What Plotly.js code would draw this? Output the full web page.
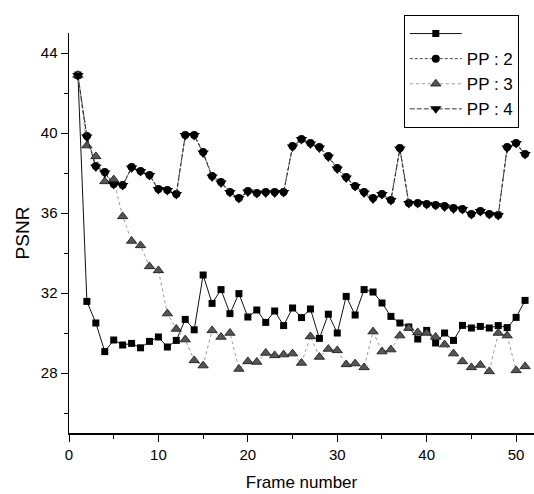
<!DOCTYPE html>
<html>
<head>
<meta charset="utf-8">
<script src="https://cdn.plot.ly/plotly-3.0.1.min.js"></script>
<style>html,body{margin:0;padding:0;background:#fff;}#chart{width:534px;height:494px;}</style>
</head>
<body>
<div id="chart"></div>
<script>
var frames = [];
for (var i = 1; i <= 51; i++) frames.push(i);

var seriesBase = [42.9, 31.58, 30.5, 29.07, 29.65, 29.4, 29.48, 29.26, 29.58, 29.8,
  29.3, 29.63, 30.68, 30.16, 32.9, 31.48, 32.17, 30.97, 31.97, 30.8,
  31.15, 30.53, 31.1, 30.37, 31.25, 30.77, 31.2, 29.73, 30.94, 30.0,
  31.83, 30.9, 32.17, 32.05, 31.5, 30.83, 30.5, 30.3, 29.7, 30.13,
  29.5, 30.0, 29.63, 30.38, 30.25, 30.33, 30.25, 30.37, 30.27, 30.78, 31.63];

var seriesPP4 = [42.87, 39.8, 38.3, 38.0, 37.42, 37.37, 38.25, 38.08, 37.88, 37.17,
  37.13, 36.92, 39.87, 39.87, 39.0, 37.8, 37.5, 37.03, 36.72, 37.05,
  36.97, 37.0, 37.0, 37.03, 39.3, 39.67, 39.45, 39.25, 38.8, 38.2,
  37.75, 37.33, 37.0, 36.7, 36.92, 36.63, 39.2, 36.47, 36.47, 36.42,
  36.38, 36.3, 36.2, 36.17, 35.92, 36.08, 35.92, 35.87, 39.25, 39.47, 38.92];

var seriesPP2 = [42.87, 39.85, 38.35, 38.05, 37.45, 37.4, 38.3, 38.1, 37.9, 37.2,
  37.15, 36.95, 39.9, 39.9, 39.05, 37.85, 37.55, 37.05, 36.75, 37.1,
  37.0, 37.05, 37.05, 37.05, 39.35, 39.7, 39.5, 39.3, 38.85, 38.25,
  37.8, 37.35, 37.05, 36.75, 36.95, 36.65, 39.25, 36.5, 36.5, 36.45,
  36.4, 36.35, 36.25, 36.2, 35.95, 36.1, 35.95, 35.9, 39.3, 39.5, 38.95];

var seriesPP3 = [42.9, 39.37, 38.83, 37.58, 37.67, 35.83, 34.6, 34.38, 33.33, 33.13,
  30.97, 30.2, 29.67, 28.63, 28.37, 30.13, 29.8, 30.0, 28.2, 28.58,
  28.55, 29.0, 28.88, 28.92, 28.97, 28.5, 29.83, 28.8, 29.2, 29.13,
  28.43, 28.47, 28.28, 30.07, 29.07, 29.17, 29.87, 30.25, 30.03, 30.0,
  29.8, 29.42, 28.97, 28.58, 28.28, 28.4, 28.08, 30.0, 29.87, 28.13, 28.33];

var legendNames = [' ', 'PP : 2', 'PP : 3', 'PP : 4'];
var xTicks = [0, 10, 20, 30, 40, 50];
var yTicks = [28, 32, 36, 40, 44];

var traces = [
  {x: frames, y: seriesBase, name: legendNames[0], mode: 'lines+markers',
   line: {color: '#111', width: 1},
   marker: {symbol: 'square', size: 7, color: '#000'}},
  {x: frames, y: seriesPP2, name: legendNames[1], mode: 'lines+markers',
   line: {color: '#444', width: 1, dash: '3px,2px'},
   marker: {symbol: 'circle', size: 8, color: '#000'}},
  {x: frames, y: seriesPP3, name: legendNames[2], mode: 'lines+markers',
   line: {color: '#999', width: 1, dash: 'dot'},
   marker: {symbol: 'triangle-up', size: 9, color: '#555', line: {color: '#111', width: 0.8}}},
  {x: frames, y: seriesPP4, name: legendNames[3], mode: 'lines+markers',
   line: {color: '#333', width: 1, dash: '5px,2px'},
   marker: {symbol: 'triangle-down', size: 10, color: '#000'}}
];

var axisFont = {family: 'Liberation Sans, Arial, sans-serif', size: 15, color: '#000'};

var layout = {
  width: 534, height: 494,
  margin: {l: 69, r: 0, t: 33, b: 61, pad: 0},
  paper_bgcolor: '#fff', plot_bgcolor: '#fff',
  font: {family: 'Liberation Sans, Arial, sans-serif', color: '#000'},
  showlegend: true,
  legend: {
    x: 0.72, y: 1.045, xanchor: 'left', yanchor: 'top',
    bgcolor: '#fff', bordercolor: '#000', borderwidth: 1,
    font: {family: 'Liberation Sans, Arial, sans-serif', size: 17, color: '#000'},
    itemwidth: 52, tracegroupgap: 0
  },
  xaxis: {
    range: [0, 52], tickvals: xTicks, ticktext: xTicks.map(String),
    showgrid: false, zeroline: false, showline: true, linecolor: '#000', linewidth: 1.5,
    ticks: 'outside', ticklen: 7, tickwidth: 1, tickcolor: '#000',
    minor: {dtick: 5, tick0: 0, ticks: 'outside', ticklen: 4, tickcolor: '#000', showgrid: false},
    tickfont: axisFont,
    title: {text: 'Frame number', font: {family: 'Liberation Sans, Arial, sans-serif', size: 17, color: '#000'}, standoff: 14}
  },
  yaxis: {
    range: [25, 45], tickvals: yTicks, ticktext: yTicks.map(String),
    showgrid: false, zeroline: false, showline: true, linecolor: '#000', linewidth: 1.5,
    ticks: 'outside', ticklen: 7, tickwidth: 1, tickcolor: '#000',
    minor: {dtick: 2, tick0: 0, ticks: 'outside', ticklen: 4, tickcolor: '#000', showgrid: false},
    tickfont: axisFont,
    title: {text: 'PSNR', font: {family: 'Liberation Sans, Arial, sans-serif', size: 19, color: '#000'}, standoff: 6}
  }
};

Plotly.newPlot('chart', traces, layout, {displayModeBar: false, staticPlot: true});
</script>
</body>
</html>
